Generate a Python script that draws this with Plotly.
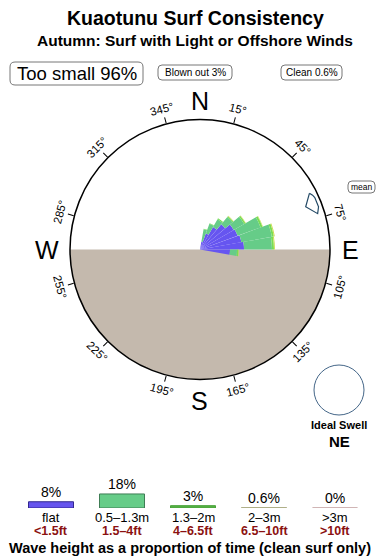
import math
import plotly.graph_objects as go

W, H = 390, 560
CX, CY, R = 200, 249.5, 130      # compass circle (pixels)
FONT = "Liberation Sans, Arial, Helvetica, sans-serif"

# ---------------- data ----------------
title = "Kuaotunu Surf Consistency"
subtitle = "Autumn: Surf with Light or Offshore Winds"
too_small_pct = 96
blown_out_pct = 3
clean_pct = 0.6
ideal_swell = "NE"
mean_direction = 67          # degrees (compass)

# swell rose: direction bins (deg) and radial lengths per wave-height band
rose_dirs = [15, 25, 35, 45, 55, 65, 75, 85, 95]
rose_flat = [8, 17, 26, 33, 39, 40, 42, 44, 30]
rose_small = [12.5, 10.5, 9, 9.5, 12, 24.5, 31, 28, 7]      # 0.5-1.3m
rose_mid = [0.5, 0.5, 1, 1, 1.5, 2, 2, 2, 1.5]              # 1.3-2m
rose_large = [0, 0, 0, 0.5, 0.5, 0.5, 1, 1, 0.5]            # 2-3m
rose_xl = [0, 0, 0, 0, 0, 0, 0, 0, 0]                      # >3m

# legend
legend_cats = ["flat", "0.5\u20131.3m", "1.3\u20132m", "2\u20133m", ">3m"]
legend_ft = ["<1.5ft", "1.5\u20134ft", "4\u20136.5ft", "6.5\u201310ft", ">10ft"]
legend_pct = [8, 18, 3, 0.6, 0]

deg_ticks = [15, 45, 75, 105, 135, 165, 195, 225, 255, 285, 315, 345]

# ---------------- styles ----------------
LAND = "#c4b9ad"
rose_colors = ["#6655f0", "#66cc88", "#77dd55", "#ccdd55", "#ccaaaa"]
leg_fill = ["#6655ee", "#66cc88", "#55b044", "#b8b894", "#ccaaaa"]
leg_line = ["#33288f", "#3f7d55", "#4aa33a", "#aeae88", "#c09c9c"]
RED = "#8b1111"


def PX(x):
    return x / W


def PY(y):
    return 1 - y / H


fig = go.Figure()

# land (lower half)
fig.add_trace(go.Barpolar(r=[R], theta=[180], width=[180], base=[0],
                          marker=dict(color=LAND, line=dict(width=0)),
                          showlegend=False, hoverinfo="skip"))

# stacked rose (manual stacking via base)
bands = [rose_flat, rose_small, rose_mid, rose_large, rose_xl]
cum = [0.0] * len(rose_dirs)
for band, col in zip(bands, rose_colors):
    fig.add_trace(go.Barpolar(r=band, theta=rose_dirs, width=[10] * len(rose_dirs),
                              base=list(cum),
                              marker=dict(color=col, line=dict(width=0)),
                              showlegend=False, hoverinfo="skip"))
    cum = [c + b for c, b in zip(cum, band)]

# mean direction arrow (shape in local radial/tangential offsets)
arrow_shape = [(123, -9), (125, -6), (126, -3), (126, 7), (123, 13), (114, 2), (123, -9)]
ar, at = [], []
for rr, tt in arrow_shape:
    ar.append(rr)
    at.append(mean_direction + math.degrees(tt / rr))
fig.add_trace(go.Scatterpolar(r=ar, theta=at, mode="lines", fill="toself",
                              fillcolor="white", line=dict(color="#244a66", width=1.2),
                              showlegend=False, hoverinfo="skip"))

# legend bars (cartesian)
fig.add_trace(go.Bar(x=legend_cats, y=legend_pct, width=45 / 71,
                     marker=dict(color=leg_fill, line=dict(color=leg_line, width=1)),
                     showlegend=False, hoverinfo="skip", cliponaxis=False))

ann = []


def text(x, y, s, size, bold=False, color="black", angle=0, **kw):
    if bold:
        s = "<b>" + s + "</b>"
    ann.append(dict(x=PX(x), y=PY(y), xref="paper", yref="paper", text=s,
                    showarrow=False, textangle=angle, xanchor="center", yanchor="middle",
                    borderpad=0,
                    font=dict(family=FONT, size=size, color=color), **kw))


text(195, 18, title, 19.5, bold=True)
text(195, 41, subtitle, 15.5, bold=True)
text(76.5, 73.5, f"Too small {too_small_pct}%", 18.5)
text(195, 72.5, f"Blown out {blown_out_pct}%", 10)
text(311.5, 72.5, f"Clean {clean_pct}%", 10)
text(361.5, 187, "mean", 8.5)

# compass letters
text(CX, 101, "N", 25)
text(CX, 401, "S", 25)
text(47, 250, "W", 25)
text(350, 250, "E", 25)

# degree labels
for a in deg_ticks:
    rad = math.radians(a)
    x = CX + 145 * math.sin(rad)
    y = CY - 145 * math.cos(rad)
    if a <= 90:
        ang = a
    elif a < 270:
        ang = a - 180
    else:
        ang = a - 360
    text(x, y, f"{a}\u00b0", 11.5, angle=ang)

text(339, 425, "Ideal Swell", 11, bold=True)
text(339, 441, ideal_swell, 15, bold=True)

# legend labels
for i, (c, ft, p) in enumerate(zip(legend_cats, legend_ft, legend_pct)):
    ann.append(dict(x=c, y=p, xref="x", yref="y", text=f"{p:g}%", showarrow=False,
                    yanchor="bottom", xanchor="center", yshift=1, borderpad=0,
                    font=dict(family=FONT, size=14, color="black")))
    ann.append(dict(x=c, y=PY(517.5), xref="x", yref="paper", text=c, showarrow=False,
                    yanchor="middle", xanchor="center", borderpad=0,
                    font=dict(family=FONT, size=13, color="black")))
    ann.append(dict(x=c, y=PY(531), xref="x", yref="paper", text=f"<b>{ft}</b>",
                    showarrow=False, yanchor="middle", xanchor="center", borderpad=0,
                    font=dict(family=FONT, size=12.5, color=RED)))
text(190, 547.5, "Wave height as a proportion of time (clean surf only)", 14.5, bold=True)


def rrect(x0, y0, x1, y1, r):
    return (f"M {PX(x0 + r)},{PY(y0)} L {PX(x1 - r)},{PY(y0)} "
            f"Q {PX(x1)},{PY(y0)} {PX(x1)},{PY(y0 + r)} L {PX(x1)},{PY(y1 - r)} "
            f"Q {PX(x1)},{PY(y1)} {PX(x1 - r)},{PY(y1)} L {PX(x0 + r)},{PY(y1)} "
            f"Q {PX(x0)},{PY(y1)} {PX(x0)},{PY(y1 - r)} L {PX(x0)},{PY(y0 + r)} "
            f"Q {PX(x0)},{PY(y0)} {PX(x0 + r)},{PY(y0)} Z")


shapes = []
for (x0, y0, x1, y1, rr) in [(10, 62, 143, 85, 5), (158, 65, 232, 80, 4),
                             (281, 65, 342, 80, 4), (348, 181, 375, 193, 4)]:
    shapes.append(dict(type="path", xref="paper", yref="paper", path=rrect(x0, y0, x1, y1, rr),
                       line=dict(color="#777777", width=1), fillcolor="rgba(0,0,0,0)"))
# ideal swell circle
shapes.append(dict(type="circle", xref="paper", yref="paper",
                   x0=PX(314), x1=PX(364), y0=PY(415), y1=PY(365),
                   line=dict(color="#446688", width=1)))

fig.update_layout(
    width=W, height=H, autosize=False,
    margin=dict(l=0, r=0, t=0, b=0),
    paper_bgcolor="white", plot_bgcolor="rgba(0,0,0,0)",
    showlegend=False,
    font=dict(family=FONT),
    polar=dict(
        domain=dict(x=[(CX - R) / W, (CX + R) / W], y=[1 - (CY + R) / H, 1 - (CY - R) / H]),
        bgcolor="white",
        barmode="overlay",
        radialaxis=dict(visible=False, range=[0, R]),
        angularaxis=dict(rotation=90, direction="clockwise", showgrid=False,
                         showticklabels=False, ticks="outside", ticklen=6, tickwidth=1,
                         tickcolor="black", tickmode="array", tickvals=deg_ticks,
                         showline=True, linecolor="black", linewidth=1.5),
    ),
    xaxis=dict(domain=[0, 1], range=[-51 / 71, (W - 51) / 71], visible=False,
               fixedrange=True),
    yaxis=dict(domain=[PY(508), PY(470)], range=[0, 38 / 0.78], visible=False,
               fixedrange=True),
    annotations=ann,
    shapes=shapes,
)

fig.write_html("out.html")
